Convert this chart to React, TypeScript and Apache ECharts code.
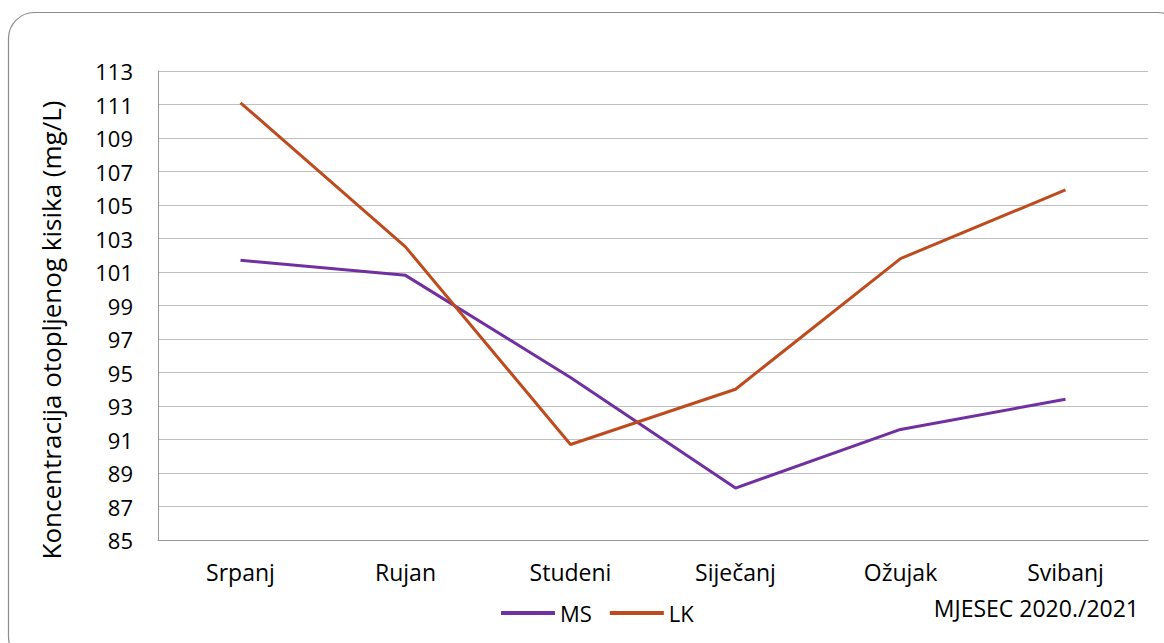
import React, { useEffect, useRef } from "react";
import * as echarts from "echarts";

const categories = ["Srpanj", "Rujan", "Studeni", "Siječanj", "Ožujak", "Svibanj"];
const msValues = [101.7, 100.8, 94.7, 88.1, 91.6, 93.4];
const lkValues = [111.1, 102.5, 90.7, 94.0, 101.8, 105.9];
const seriesNames = ["MS", "LK"];
const yAxisTitle = "Koncentracija otopljenog kisika (mg/L)";
const xAxisTitle = "MJESEC 2020./2021";

const FONT = "'Open Sans', Lato, sans-serif";

export default function App() {
  const ref = useRef<HTMLDivElement>(null);
  useEffect(() => {
    if (!ref.current) return;
    const chart = echarts.init(ref.current, null, { renderer: "svg" });
    chart.setOption({
      animation: false,
      backgroundColor: "#ffffff",
      textStyle: { fontFamily: FONT },
      grid: { left: 158, right: 16, top: 71, bottom: 103, containLabel: false },
      legend: {
        data: seriesNames,
        left: 496,
        top: 597,
        icon: "rect",
        itemWidth: 54,
        itemHeight: 4,
        itemGap: 18,
        textStyle: { fontSize: 22, color: "#000", fontFamily: FONT },
      },
      xAxis: {
        type: "category",
        data: categories,
        boundaryGap: true,
        axisLine: { lineStyle: { color: "#999", width: 1 } },
        axisTick: { show: false },
        axisLabel: { fontSize: 23, color: "#000", margin: 20, fontFamily: FONT },
        splitLine: { show: false },
      },
      yAxis: {
        type: "value",
        min: 85,
        max: 113,
        interval: 2,
        axisLine: { show: true, lineStyle: { color: "#999", width: 1 } },
        axisTick: { show: false },
        axisLabel: { fontSize: 22, color: "#000", margin: 25, fontFamily: FONT },
        splitLine: { lineStyle: { color: "#bfbfbf", width: 1 } },
      },
      graphic: [
        {
          type: "rect",
          shape: { x: 8.5, y: 12.5, width: 1175, height: 650, r: 26 },
          style: { fill: "none", stroke: "#8c8c8c", lineWidth: 1.2 },
          silent: true,
          z: -1,
        },
        {
          type: "text",
          x: 51,
          y: 330,
          rotation: Math.PI / 2,
          style: {
            text: yAxisTitle,
            fontSize: 26,
            fill: "#000",
            fontFamily: FONT,
            textAlign: "center",
            textVerticalAlign: "middle",
          },
        },
        {
          type: "text",
          right: 25,
          top: 596,
          style: { text: xAxisTitle, fontSize: 23, fill: "#000", fontFamily: FONT },
        },
      ],
      series: [
        {
          name: seriesNames[0],
          type: "line",
          data: msValues,
          symbol: "none",
          lineStyle: { color: "#7030A0", width: 3 },
          itemStyle: { color: "#7030A0" },
        },
        {
          name: seriesNames[1],
          type: "line",
          data: lkValues,
          symbol: "none",
          lineStyle: { color: "#BE4B1E", width: 3 },
          itemStyle: { color: "#BE4B1E" },
        },
      ],
    });
    return () => chart.dispose();
  }, []);
  return (
    <div
      ref={ref}
      style={{ position: "absolute", left: 0, top: 0, width: 1164, height: 643 }}
    />
  );
}
